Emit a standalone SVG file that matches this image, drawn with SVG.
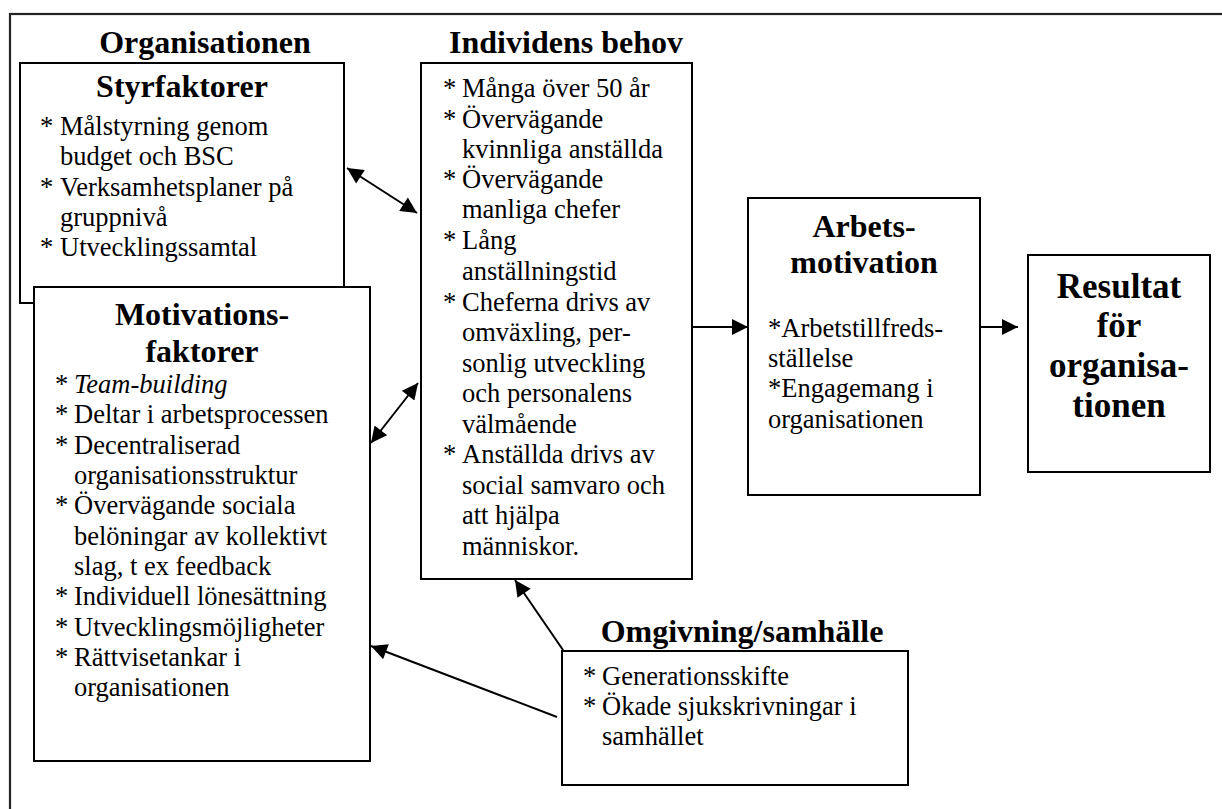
<svg xmlns="http://www.w3.org/2000/svg" width="1222" height="809" viewBox="0 0 1222 809">
  <style>
    text { font-family: "Liberation Serif", "Times New Roman", serif; fill: #000; }
    .h { font-weight: bold; font-size: 32px; text-anchor: middle; }
    .hl { font-weight: bold; font-size: 35px; text-anchor: middle; }
    .b { font-size: 26.5px; }
    .box { fill: #fff; stroke: #000; stroke-width: 2; }
    .frame { fill: none; stroke: #222; stroke-width: 2.2; }
    .conn { stroke: #000; stroke-width: 2; fill: none; }
  </style>
  <defs>
    <marker id="ah" viewBox="0 0 10 10" refX="10" refY="5" markerWidth="8.5" markerHeight="8" markerUnits="userSpaceOnUse" orient="auto-start-reverse">
      <path d="M0,0 L10,5 L0,10 z" fill="#000"/>
    </marker>
    <marker id="arr" viewBox="0 0 10 10" refX="10" refY="5" markerWidth="18" markerHeight="16" markerUnits="userSpaceOnUse" orient="auto-start-reverse">
      <path d="M0,0 L10,5 L0,10 z" fill="#000"/>
    </marker>
  </defs>

  <rect width="1222" height="809" fill="#fff"/>

  <!-- outer frame, open to the right and bottom -->
  <rect class="frame" x="10" y="14" width="1300" height="900"/>

  <text class="h" x="205" y="53">Organisationen</text>
  <text class="h" x="566" y="53">Individens behov</text>

  <g id="styrfaktorer">
    <rect class="box" x="20" y="63" width="324" height="240"/>
    <text class="h" x="182" y="97">Styrfaktorer</text>
    <text class="b" x="40" y="135">*</text><text class="b" x="60" y="135">Målstyrning genom</text>
    <text class="b" x="60" y="165">budget och BSC</text>
    <text class="b" x="40" y="196">*</text><text class="b" x="60" y="196">Verksamhetsplaner på</text>
    <text class="b" x="60" y="226">gruppnivå</text>
    <text class="b" x="40" y="256">*</text><text class="b" x="60" y="256">Utvecklingssamtal</text>
  </g>

  <g id="motivationsfaktorer">
    <rect class="box" x="34" y="287" width="336" height="474"/>
    <text class="h" x="202" y="325">Motivations-</text>
    <text class="h" x="202" y="362">faktorer</text>
    <text class="b" x="55" y="393">*</text><text class="b" x="74" y="393" font-style="italic">Team-building</text>
    <text class="b" x="55" y="423">*</text><text class="b" x="74" y="423">Deltar i arbetsprocessen</text>
    <text class="b" x="55" y="454">*</text><text class="b" x="74" y="454">Decentraliserad</text>
    <text class="b" x="74" y="484">organisationsstruktur</text>
    <text class="b" x="55" y="514">*</text><text class="b" x="74" y="514">Övervägande sociala</text>
    <text class="b" x="74" y="545">belöningar av kollektivt</text>
    <text class="b" x="74" y="575">slag, t ex feedback</text>
    <text class="b" x="55" y="605">*</text><text class="b" x="74" y="605">Individuell lönesättning</text>
    <text class="b" x="55" y="636">*</text><text class="b" x="74" y="636">Utvecklingsmöjligheter</text>
    <text class="b" x="55" y="666">*</text><text class="b" x="74" y="666">Rättvisetankar i</text>
    <text class="b" x="74" y="696">organisationen</text>
  </g>

  <g id="individens-behov">
    <rect class="box" x="421" y="63" width="271" height="516"/>
    <text class="b" x="443" y="97">*</text><text class="b" x="462" y="97">Många över 50 år</text>
    <text class="b" x="443" y="128">*</text><text class="b" x="462" y="128">Övervägande</text>
    <text class="b" x="462" y="158">kvinnliga anställda</text>
    <text class="b" x="443" y="188">*</text><text class="b" x="462" y="188">Övervägande</text>
    <text class="b" x="462" y="218">manliga chefer</text>
    <text class="b" x="443" y="249">*</text><text class="b" x="462" y="249">Lång</text>
    <text class="b" x="462" y="280">anställningstid</text>
    <text class="b" x="443" y="311">*</text><text class="b" x="462" y="311">Cheferna drivs av</text>
    <text class="b" x="462" y="341">omväxling, per-</text>
    <text class="b" x="462" y="372">sonlig utveckling</text>
    <text class="b" x="462" y="402">och personalens</text>
    <text class="b" x="462" y="433">välmående</text>
    <text class="b" x="443" y="463">*</text><text class="b" x="462" y="463">Anställda drivs av</text>
    <text class="b" x="462" y="494">social samvaro och</text>
    <text class="b" x="462" y="524">att hjälpa</text>
    <text class="b" x="462" y="555">människor.</text>
  </g>

  <g id="arbetsmotivation">
    <rect class="box" x="748" y="198" width="232" height="297"/>
    <text class="h" x="864" y="237">Arbets-</text>
    <text class="h" x="864" y="273">motivation</text>
    <text class="b" x="768" y="337">*Arbetstillfreds-</text>
    <text class="b" x="768" y="367">ställelse</text>
    <text class="b" x="768" y="397">*Engagemang i</text>
    <text class="b" x="768" y="428">organisationen</text>
  </g>

  <g id="resultat">
    <rect class="box" x="1028" y="255" width="182" height="217"/>
    <text class="hl" x="1119" y="298">Resultat</text>
    <text class="hl" x="1119" y="337">för</text>
    <text class="hl" x="1119" y="377">organisa-</text>
    <text class="hl" x="1119" y="417">tionen</text>
  </g>

  <g id="omgivning">
    <text class="h" x="742" y="642">Omgivning/samhälle</text>
    <rect class="box" x="562" y="651" width="346" height="134"/>
    <text class="b" x="583" y="685">*</text><text class="b" x="602" y="685">Generationsskifte</text>
    <text class="b" x="583" y="715">*</text><text class="b" x="602" y="715">Ökade sjukskrivningar i</text>
    <text class="b" x="602" y="745">samhället</text>
  </g>

  <g id="connectors">
    <line class="conn" x1="347" y1="168" x2="417" y2="213" marker-start="url(#arr)" marker-end="url(#arr)"/>
    <line class="conn" x1="371" y1="443" x2="418" y2="383" marker-start="url(#arr)" marker-end="url(#arr)"/>
    <line class="conn" x1="692" y1="327" x2="748" y2="327" marker-end="url(#arr)"/>
    <line class="conn" x1="980" y1="327" x2="1018" y2="327" marker-end="url(#arr)"/>
    <line class="conn" x1="563" y1="650" x2="515" y2="580" marker-end="url(#arr)"/>
    <line class="conn" x1="557" y1="717" x2="371" y2="646" marker-end="url(#arr)"/>
  </g>
</svg>
